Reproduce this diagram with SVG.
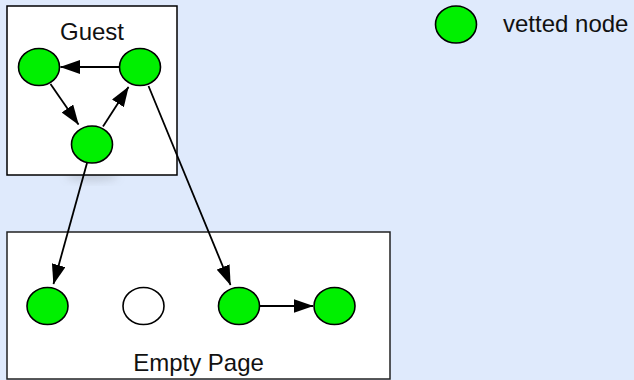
<svg xmlns="http://www.w3.org/2000/svg" width="634" height="380" viewBox="0 0 634 380">
  <style>
    .box { fill: #ffffff; stroke: #000000; stroke-width: 1.5; }
    .vetted { fill: #00f000; stroke: #000000; stroke-width: 1.6; }
    .plain { fill: #ffffff; stroke: #000000; stroke-width: 1.6; }
    .edge { fill: none; stroke: #000000; stroke-width: 1.8; marker-end: url(#arrow); }
    .label { font-family: "Liberation Sans", Arial, Helvetica, sans-serif; font-size: 24px; fill: #111111; }
  </style>
  <defs>
    <marker id="arrow" viewBox="0 0 20 14" refX="19.5" refY="7" markerWidth="20" markerHeight="14" markerUnits="userSpaceOnUse" orient="auto">
      <path d="M0,0 L20,7 L0,14 z" fill="#000000"/>
    </marker>
    <filter id="blur" x="-50%" y="-50%" width="200%" height="200%">
      <feGaussianBlur stdDeviation="4"/>
    </filter>
  </defs>
  <rect x="0" y="0" width="634" height="380" fill="#dfeafc"/>

  <g id="guest-page">
    <ellipse cx="92" cy="176" rx="26" ry="5" fill="#8a9099" opacity="0.35" filter="url(#blur)"/>
    <rect class="box" x="7" y="6" width="170" height="169"/>
    <text class="label" x="92" y="40" text-anchor="middle">Guest</text>
  </g>

  <g id="empty-page">
    <rect class="box" x="7" y="232" width="383" height="147" style="stroke:#222222"/>
    <text class="label" x="198.5" y="371" text-anchor="middle">Empty Page</text>
  </g>

  <g id="g-left"><ellipse class="vetted" cx="39" cy="67" rx="20.5" ry="18.5"/></g>
  <g id="g-right"><ellipse class="vetted" cx="140" cy="67" rx="20.5" ry="18.5"/></g>
  <g id="g-bottom"><ellipse class="vetted" cx="92" cy="144.5" rx="20.5" ry="18.5"/></g>

  <g id="e-node1"><ellipse class="vetted" cx="47.5" cy="306" rx="20.5" ry="18.5"/></g>
  <g id="e-node2"><ellipse class="plain" cx="143.5" cy="306" rx="20.5" ry="18.5"/></g>
  <g id="e-node3"><ellipse class="vetted" cx="239" cy="306" rx="20.5" ry="18.5"/></g>
  <g id="e-node4"><ellipse class="vetted" cx="334.5" cy="306" rx="20.5" ry="18.5"/></g>

  <g id="legend">
    <ellipse class="vetted" cx="456" cy="24.5" rx="20.5" ry="18.5"/>
    <text class="label" x="503" y="32">vetted node</text>
  </g>

  <g id="connectors">
    <path class="edge" d="M120,67 L60.5,67"/>
    <path class="edge" d="M50.5,84 L78.5,124.5"/>
    <path class="edge" d="M103,126.5 L128.5,87"/>
    <path class="edge" d="M87,163 L53.5,284"/>
    <path class="edge" d="M148.5,86 L230.5,285"/>
    <path class="edge" d="M259.5,306 L313,306"/>
  </g>
</svg>
